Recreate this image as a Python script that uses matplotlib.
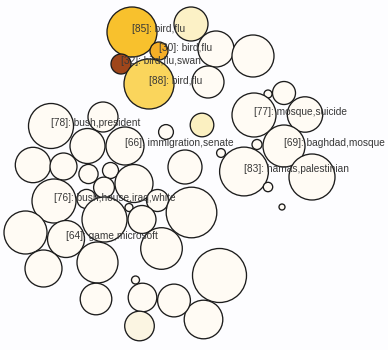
import matplotlib.pyplot as plt
from matplotlib.patches import Circle

# circle centres / radii in picture units (y grows downward)
xs = [132, 191, 159, 121, 149, 216, 208, 253, 284, 268,
      254, 305, 284, 257, 244, 312, 268, 282, 221, 202,
      166, 185, 51, 103, 87.5, 125, 33, 63.5, 88.5, 110.5,
      104, 134, 54, 86.5, 157.5, 129, 142, 191.5, 25.5, 66,
      104.5, 161.5, 43.5, 97.5, 96, 219.5, 203.5, 174, 142.5, 135.5, 139.5]
ys = [32, 24, 51, 64, 84, 49, 82, 56, 93, 94,
      115, 114.5, 146, 144.5, 171.5, 177, 187, 207, 153, 125,
      132, 167, 126, 117, 146, 146, 165, 166.5, 174, 170.5,
      187.5, 183.5, 201, 199, 200.5, 207.5, 219.5, 212.5, 232.5, 239,
      219.5, 248.5, 268.5, 262.5, 299, 275.5, 319.5, 300.5, 297.5, 280, 326]
rs = [25, 17, 9, 10, 25, 18, 16, 21, 11.5, 4,
      22, 17.7, 21, 5, 24.4, 23, 4.7, 3, 4.4, 11.8,
      7.4, 17, 22.5, 15, 17.5, 19, 17.7, 13.5, 9.6, 8,
      10.4, 19, 22, 9.6, 11, 4, 14, 25.3, 21.5, 18.5,
      22.5, 20.8, 18.5, 20.5, 15.8, 27, 19.3, 16.4, 14.3, 4, 14.8]

# fill colour per circle (default cream)
special_colors = {0: '#f8c12d', 1: '#fcf1c6', 2: '#f5ae27', 3: '#9f461b',
                  4: '#fad55c', 19: '#fbf0c1', 50: '#fbf5e2'}

labels = {0: '[85]: bird,flu', 2: '[30]: bird,flu', 3: '[32]: bird,flu,swan',
          4: '[88]: bird,flu', 10: '[77]: mosque,suicide',
          12: '[69]: baghdad,mosque', 14: '[83]: hamas,palestinian',
          22: '[78]: bush,president', 25: '[66]: immigration,senate',
          32: '[76]: bush,house,iraq,white', 39: '[64]: game,microsoft'}

fig = plt.figure(figsize=(3.88, 3.5), dpi=100)
fig.patch.set_facecolor('#fdfdff')
ax = fig.add_axes([0, 0, 1, 1])
ax.set_facecolor('#fdfdff')

for i, (x, y, r) in enumerate(zip(xs, ys, rs)):
    c = special_colors.get(i, '#fffbf4')
    ax.add_patch(Circle((x, y), r, facecolor=c, edgecolor='#1c1c1c', linewidth=0.95))

for i, txt in labels.items():
    ax.text(xs[i], ys[i], txt, fontsize=7.3, family='Liberation Sans',
            color='#383838', ha='left', va='baseline', zorder=5)

ax.set_xlim(0, 388)
ax.set_ylim(350, 0)
ax.set_aspect('equal')
ax.axis('off')

plt.savefig('out.png', dpi=100, facecolor=fig.get_facecolor())
plt.close()
